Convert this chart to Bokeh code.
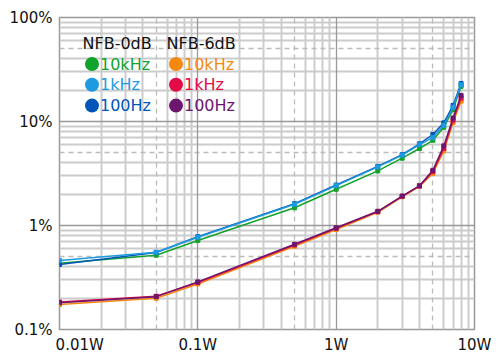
from bokeh.plotting import figure
from bokeh.models import FixedTicker, Grid, Label, BoxAnnotation
from bokeh.embed import file_html
from bokeh.resources import INLINE

# ---- data ----
power_w = [0.01, 0.05, 0.1, 0.5, 1, 2, 3, 4, 5, 6, 7, 8]

nfb0_10k = [0.434, 0.518, 0.718, 1.48, 2.23, 3.35, 4.44, 5.5, 6.6, 8.8, 13.0, 21.8]
nfb0_1k = [0.460, 0.554, 0.772, 1.60, 2.42, 3.66, 4.75, 6.0, 7.0, 9.2, 13.7, 22.5]
nfb0_100 = [0.422, 0.550, 0.780, 1.62, 2.45, 3.70, 4.80, 6.1, 7.5, 9.7, 14.3, 23.2]

nfb6_10k = [0.174, 0.200, 0.274, 0.632, 0.915, 1.34, 1.89, 2.38, 3.16, 5.2, 9.8, 15.7]
nfb6_1k = [0.184, 0.209, 0.283, 0.650, 0.940, 1.36, 1.91, 2.40, 3.30, 5.5, 10.3, 16.8]
nfb6_100 = [0.181, 0.207, 0.287, 0.660, 0.950, 1.37, 1.92, 2.41, 3.40, 5.83, 10.8, 17.8]

# x tick labels (first label sits just right of the left edge, as in the original)
x_label_pos = [0.014, 0.1, 1, 10]
x_labels = ["0.01W", "0.1W", "1W", "10W"]
y_major = [0.1, 1, 10, 100]
y_labels = ["0.1%", "1%", "10%", "100%"]
x_major = [0.01, 0.1, 1, 10]
x_dashed = [0.05, 0.5, 5]
y_dashed = [0.5, 5, 50]
x_minor = [m * d for d in [0.01, 0.1, 1] for m in [2, 3, 4, 6, 7, 8, 9]]
y_minor = [m * d for d in [0.1, 1, 10] for m in [2, 3, 4, 6, 7, 8, 9]]

groups = [
    ("NFB-0dB", [("10kHz", nfb0_10k, "#12a32c"), ("100Hz", nfb0_100, "#0055b8"), ("1kHz", nfb0_1k, "#1e9be0")]),
    ("NFB-6dB", [("10kHz", nfb6_10k, "#f5890f"), ("1kHz", nfb6_1k, "#e30b45"), ("100Hz", nfb6_100, "#6d1670")]),
]
legend_order = {"10kHz": 0, "1kHz": 1, "100Hz": 2}

FONT = "DejaVu Sans"

p = figure(width=500, height=361, x_axis_type="log", y_axis_type="log",
           x_range=(0.01, 10), y_range=(0.1, 100),
           output_backend="svg", toolbar_location=None,
           min_border_left=59, min_border_right=26, min_border_top=17, min_border_bottom=32)
p.background_fill_color = "white"
p.border_fill_color = "white"
p.outline_line_color = "#999999"
p.outline_line_width = 1.5

# grids
p.xgrid.visible = False
p.ygrid.visible = False
for dim, ticks in [(0, x_minor), (1, y_minor)]:
    g = Grid(dimension=dim, ticker=FixedTicker(ticks=ticks), grid_line_color="#cccccc", grid_line_width=2)
    p.add_layout(g)
for dim, ticks in [(0, x_dashed), (1, y_dashed)]:
    g = Grid(dimension=dim, ticker=FixedTicker(ticks=ticks), grid_line_color="#bbbbbb",
             grid_line_width=1.3, grid_line_dash="5 4")
    p.add_layout(g)
for dim, ticks in [(0, x_major), (1, y_major)]:
    g = Grid(dimension=dim, ticker=FixedTicker(ticks=ticks), grid_line_color="#999999", grid_line_width=1.3)
    p.add_layout(g)

# axes
for ax in (p.xaxis[0], p.yaxis[0]):
    ax.axis_line_color = None
    ax.major_tick_line_color = None
    ax.minor_tick_line_color = None
    ax.major_tick_out = 0
    ax.major_tick_in = 0
    ax.minor_tick_out = 0
    ax.minor_tick_in = 0
    ax.major_label_text_font = FONT
    ax.major_label_text_font_size = "15px"
    ax.major_label_text_color = "#111111"
p.xaxis[0].major_label_standoff = 6
p.yaxis[0].major_label_standoff = 7
p.xaxis[0].ticker = FixedTicker(ticks=x_label_pos)
p.yaxis[0].ticker = FixedTicker(ticks=y_major)
p.xaxis[0].major_label_overrides = {t: l for t, l in zip(x_label_pos, x_labels)}
p.yaxis[0].major_label_overrides = {t: l for t, l in zip(y_major, y_labels)}

# series
for gi, (title, series) in enumerate(groups):
    for name, vals, color in series:
        p.line(power_w, vals, line_color=color, line_width=1.5)
        p.scatter(power_w, vals, marker="square", size=4, fill_color=color, line_color=color)

# legend (annotations in screen units, relative to frame bottom-left)
col_x = [24, 108]
for gi, (title, series) in enumerate(groups):
    cx = col_x[gi]
    p.add_layout(Label(x=cx - 1, y=286, x_units="screen", y_units="screen", text=title,
                       text_baseline="middle", text_font=FONT, text_font_size="16px",
                       text_color="#111111"))
    for name, vals, color in series:
        r = legend_order[name]
        cy = 265.5 - r * 20.8
        dx = cx + 8.5
        p.add_layout(BoxAnnotation(left=dx - 7, right=dx + 7, bottom=cy - 7, top=cy + 7,
                                   left_units="screen", right_units="screen",
                                   top_units="screen", bottom_units="screen",
                                   fill_color=color, fill_alpha=1, line_color=None,
                                   border_radius=7))
        p.add_layout(Label(x=dx + 8, y=cy, x_units="screen", y_units="screen", text=name,
                           text_baseline="middle", text_font=FONT, text_font_size="16px",
                           text_color=color))

open("out.html", "w").write(file_html(p, INLINE))
